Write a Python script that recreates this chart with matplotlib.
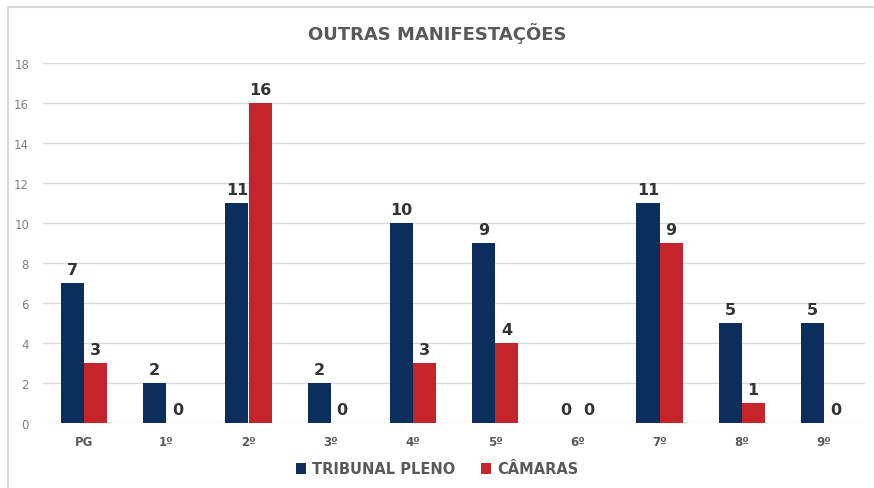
import matplotlib
matplotlib.use("Agg")
import matplotlib.pyplot as plt
import numpy as np
from matplotlib.patches import Rectangle

categories = ["PG", "1º", "2º", "3º", "4º", "5º", "6º", "7º", "8º", "9º"]
tribunal_pleno = [7, 2, 11, 2, 10, 9, 0, 11, 5, 5]
camaras = [3, 0, 16, 0, 3, 4, 0, 9, 1, 0]
yticks = [0, 2, 4, 6, 8, 10, 12, 14, 16, 18]

blue = "#0c2e5c"
red = "#c4242a"
fam = "DejaVu Sans"

fig = plt.figure(figsize=(8.74, 4.89), dpi=100)
fig.patches.append(Rectangle((8/874, -0.1), 1.2, 1 - 8/489 + 0.1, transform=fig.transFigure,
                             fill=False, edgecolor="#d9d9d9", linewidth=1.5))
ax = fig.add_axes([43/874, 1 - 424/489, (865 - 43)/874, (424 - 64)/489])

x = np.arange(len(categories))
w = 0.28
b1 = ax.bar(x - w/2, tribunal_pleno, w, color=blue, label="TRIBUNAL PLENO", zorder=3)
b2 = ax.bar(x + w/2, camaras, w, color=red, label="CÂMARAS", zorder=3)
for bars in (b1, b2):
    ax.bar_label(bars, padding=4, fontsize=11.5, fontweight="bold", color="#333333", family=fam)

ax.set_xlim(-0.5, len(categories) - 0.5)
ax.set_ylim(0, 18)
ax.set_yticks(yticks)
ax.set_xticks(x)
ax.set_xticklabels(categories, fontsize=8.5, fontweight="bold", color="#595959", family=fam)
for t in ax.get_yticklabels():
    t.set_fontsize(8.5)
    t.set_color("#7f7f7f")
    t.set_family(fam)
ax.tick_params(axis="both", length=0)
ax.tick_params(axis="y", pad=10)
ax.tick_params(axis="x", pad=9)
ax.grid(axis="y", color="#d9d9d9", linewidth=1, zorder=0)
for s in ax.spines.values():
    s.set_visible(False)

fig.text(0.5, 1 - 34/489, "OUTRAS MANIFESTAÇÕES", ha="center", va="center",
         fontsize=13, fontweight="bold", color="#595959", family=fam)

leg = fig.legend(handles=[b1, b2], loc="center", bbox_to_anchor=(0.5, 1 - 470/489), ncol=2,
                 frameon=False, prop={"family": fam, "size": 10.5, "weight": "bold"},
                 handlelength=0.7, handleheight=0.7, columnspacing=1.8, handletextpad=0.4)
for t in leg.get_texts():
    t.set_color("#595959")

fig.savefig("out.png", dpi=100)
